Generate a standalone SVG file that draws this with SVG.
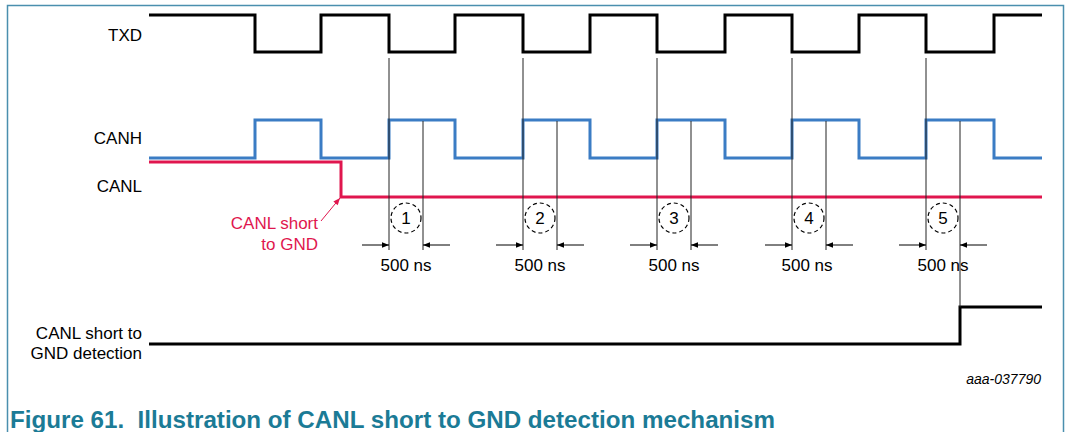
<svg xmlns="http://www.w3.org/2000/svg" width="1066" height="432" viewBox="0 0 1066 432">
<defs>
<style>
.lbl{font-family:"Liberation Sans",Arial,sans-serif;font-size:17px;fill:#000}
.red{fill:#e0164e}
.sig{fill:none;stroke-width:3;stroke-linejoin:miter}
.thin{stroke:#222;stroke-width:1;fill:none}
.circ{fill:none;stroke:#000;stroke-width:1.2;stroke-dasharray:4,3}
.num{font-family:"Liberation Sans",Arial,sans-serif;font-size:17px;text-anchor:middle}
</style>
<marker id="ah" viewBox="0 0 10 10" refX="10" refY="5" markerWidth="9" markerHeight="7" markerUnits="userSpaceOnUse" orient="auto">
<path d="M0,1 L10,5 L0,9 Z" fill="#000"/>
</marker>
<marker id="ahr" viewBox="0 0 10 10" refX="10" refY="5" markerWidth="9" markerHeight="7" markerUnits="userSpaceOnUse" orient="auto">
<path d="M0,1 L10,5 L0,9 Z" fill="#e0164e"/>
</marker>
</defs>
<rect width="1066" height="432" fill="#fff"/>
<path d="M7.5,432 V5.5 H1063.5 V432" fill="none" stroke="#4a8fae" stroke-width="1.5"/>

<g id="labels">
<text class="lbl" x="142" y="41" text-anchor="end">TXD</text>
<text class="lbl" x="142" y="144" text-anchor="end">CANH</text>
<text class="lbl" x="142" y="192" text-anchor="end">CANL</text>
<text class="lbl" x="142" y="339" text-anchor="end">CANL short to</text>
<text class="lbl" x="142" y="359" text-anchor="end">GND detection</text>
</g>

<g id="TXD">
<path class="sig" stroke="#000" d="M149,15 H255 V52 H321 V15 H389 V52 H455 V15 H523 V52 H590 V15 H657 V52 H725 V15 H792 V52 H859 V15 H926 V52 H994 V15 H1042"/>
</g>
<g id="CANH">
<path class="sig" stroke="#3b7cc4" d="M149,158 H255 V120 H321 V158 H389 V120 H455 V158 H523 V120 H590 V158 H657 V120 H725 V158 H792 V120 H859 V158 H926 V120 H994 V158 H1042"/>
</g>
<g id="CANL">
<path class="sig" stroke="#e0164e" d="M149,162 H341 V197 H1042"/>
</g>
<g id="detection">
<path class="sig" stroke="#000" d="M149,344 H960 V307 H1042"/>
</g>

<g id="connectors">
<g class="thin">
<path d="M389,58 V250 M423,121 V250"/>
<path d="M523,58 V250 M557,121 V250"/>
<path d="M657,58 V250 M691,121 V250"/>
<path d="M792,58 V250 M826,121 V250"/>
<path d="M926,58 V250 M960,121 V307"/>
</g>
<g stroke="#000" stroke-width="1">
<line x1="362" y1="245" x2="389" y2="245" marker-end="url(#ah)"/>
<line x1="450" y1="245" x2="423" y2="245" marker-end="url(#ah)"/>
<line x1="496" y1="245" x2="523" y2="245" marker-end="url(#ah)"/>
<line x1="584" y1="245" x2="557" y2="245" marker-end="url(#ah)"/>
<line x1="630" y1="245" x2="657" y2="245" marker-end="url(#ah)"/>
<line x1="718" y1="245" x2="691" y2="245" marker-end="url(#ah)"/>
<line x1="765" y1="245" x2="792" y2="245" marker-end="url(#ah)"/>
<line x1="853" y1="245" x2="826" y2="245" marker-end="url(#ah)"/>
<line x1="899" y1="245" x2="926" y2="245" marker-end="url(#ah)"/>
<line x1="987" y1="245" x2="960" y2="245" marker-end="url(#ah)"/>
</g>
<line x1="321" y1="221" x2="340" y2="198" stroke="#e0164e" stroke-width="1" marker-end="url(#ahr)"/>
</g>

<g id="pulse1">
<circle class="circ" cx="406" cy="218" r="15"/>
<text class="num" x="406" y="224">1</text>
<text class="lbl" x="406" y="271" text-anchor="middle">500 ns</text>
</g>
<g id="pulse2">
<circle class="circ" cx="540" cy="218" r="15"/>
<text class="num" x="540" y="224">2</text>
<text class="lbl" x="540" y="271" text-anchor="middle">500 ns</text>
</g>
<g id="pulse3">
<circle class="circ" cx="674" cy="218" r="15"/>
<text class="num" x="674" y="224">3</text>
<text class="lbl" x="674" y="271" text-anchor="middle">500 ns</text>
</g>
<g id="pulse4">
<circle class="circ" cx="809" cy="218" r="15"/>
<text class="num" x="809" y="224">4</text>
<text class="lbl" x="807" y="271" text-anchor="middle">500 ns</text>
</g>
<g id="pulse5">
<circle class="circ" cx="943" cy="218" r="15"/>
<text class="num" x="943" y="224">5</text>
<text class="lbl" x="943" y="271" text-anchor="middle">500 ns</text>
</g>

<g id="short-note">
<text class="lbl red" x="318" y="229" text-anchor="end">CANL short</text>
<text class="lbl red" x="318" y="250" text-anchor="end">to GND</text>
</g>

<text x="1041" y="384" text-anchor="end" font-family="'Liberation Sans',Arial,sans-serif" font-size="14" font-style="italic">aaa-037790</text>
<text x="10" y="428" font-family="'Liberation Sans',Arial,sans-serif" font-size="24" font-weight="bold" fill="#1b7b96" textLength="765" lengthAdjust="spacingAndGlyphs" xml:space="preserve">Figure 61.  Illustration of CANL short to GND detection mechanism</text>
</svg>
